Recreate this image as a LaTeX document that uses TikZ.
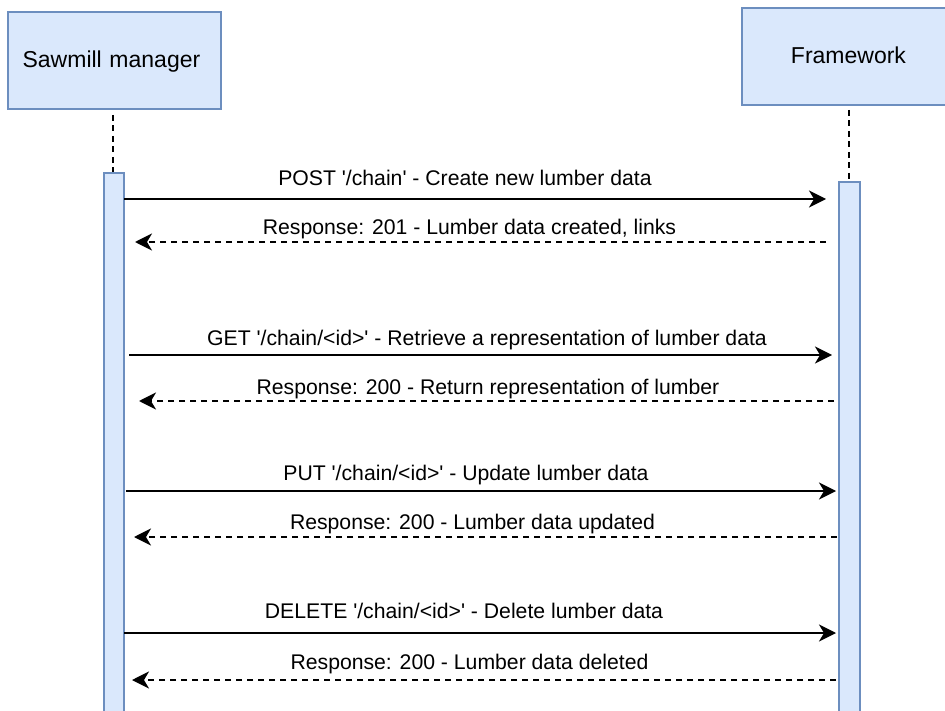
\documentclass[tikz,border=0pt]{standalone}
\usepackage{fontspec}
\setmainfont{Liberation Sans}[Ligatures=TeXOff]
\usetikzlibrary{arrows.meta}
\definecolor{boxfill}{HTML}{DAE8FC}
\definecolor{boxline}{HTML}{6C8EBF}
\begin{document}
\begin{tikzpicture}[x=1pt,y=-1pt,
  actorbox/.style={draw=boxline,fill=boxfill,line width=1.9pt,inner sep=0pt,anchor=north west,
    font=\fontsize{23}{27}\selectfont,text height=17pt,text depth=2pt},
  actbar/.style={draw=boxline,fill=boxfill,line width=1.9pt,inner sep=0pt,anchor=north},
  lifeline/.style={draw=black,line width=1.9pt,dash pattern=on 6pt off 4.5pt},
  msgcall/.style={draw=black,line width=1.9pt,-{Stealth[length=17pt,width=17pt,inset=5pt]}},
  msgreply/.style={draw=black,line width=1.9pt,dash pattern=on 6pt off 5pt,-{Stealth[length=17pt,width=17pt,inset=5pt]}},
  msglabel/.style={anchor=base,inner sep=0pt,font=\fontsize{21.2}{25}\selectfont}]
\useasboundingbox (0,0) rectangle (945,711);
\clip (0,0) rectangle (945,711);
\fill[white] (0,0) rectangle (945,711);

% actors
\node[actorbox,minimum width=213pt,minimum height=97pt,text width=209pt,align=center] (mgr) at (7,11) {\hspace*{-6pt}Sawmill manager};
\node[actorbox,minimum width=216pt,minimum height=97pt] (fw) at (741,7) {Framework\hspace*{3pt}};

% activation bars
\node[actbar,minimum width=20pt,minimum height=560pt] (lbar) at (114,172) {};
\node[actbar,minimum width=21pt,minimum height=560pt] (rbar) at (849.5,181) {};

% lifelines
\coordinate (mgrll) at (113,115);
\coordinate (fwll) at (849,110);
\draw[lifeline] (mgrll) -- (mgrll |- lbar.north);
\draw[lifeline] (fwll) -- (fwll |- rbar.north);

% message endpoints
\coordinate (a1s) at (124,199);  \coordinate (a1e) at (826,199);
\coordinate (a2s) at (826,242);  \coordinate (a2e) at (135,242);
\coordinate (a3s) at (129,355);  \coordinate (a3e) at (832,355);
\coordinate (a4s) at (834,401);  \coordinate (a4e) at (139,401);
\coordinate (a5s) at (126,491);  \coordinate (a5e) at (836,491);
\coordinate (a6s) at (837,537);  \coordinate (a6e) at (134,537);
\coordinate (a7s) at (124,633);  \coordinate (a7e) at (836,633);
\coordinate (a8s) at (836,680);  \coordinate (a8e) at (132,680);

\draw[msgcall]  (a1s) -- (a1e);
\draw[msgreply] (a2s) -- (a2e);
\draw[msgcall]  (a3s) -- (a3e);
\draw[msgreply] (a4s) -- (a4e);
\draw[msgcall]  (a5s) -- (a5e);
\draw[msgreply] (a6s) -- (a6e);
\draw[msgcall]  (a7s) -- (a7e);
\draw[msgreply] (a8s) -- (a8e);

% labels
\node[msglabel] (l1) at (465,186) {POST '/chain' - Create new lumber data};
\node[msglabel] (l2) at (469.5,235) {Response: 201 - Lumber data created, links};
\node[msglabel] (l3) at (487,345) {GET '/chain/<id>' - Retrieve a representation of lumber data};
\node[msglabel] (l4) at (488,394) {Response: 200 - Return representation of lumber};
\node[msglabel] (l5) at (466,480) {PUT '/chain/<id>' - Update lumber data};
\node[msglabel] (l6) at (472.5,529) {Response: 200 - Lumber data updated};
\node[msglabel] (l7) at (464,618) {DELETE '/chain/<id>' - Delete lumber data};
\node[msglabel] (l8) at (469.5,669) {Response: 200 - Lumber data deleted};
\end{tikzpicture}
\end{document}
